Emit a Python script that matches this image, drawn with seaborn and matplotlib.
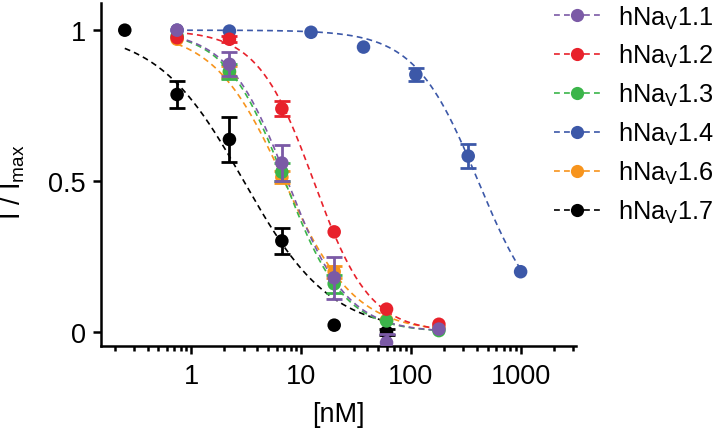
import numpy as np
import pandas as pd
import matplotlib
matplotlib.use('Agg')
import matplotlib.pyplot as plt
import seaborn as sns
from matplotlib.lines import Line2D
from matplotlib.ticker import LogLocator, NullFormatter, FixedLocator, FixedFormatter

# channel names and colours
labels = ['hNa$_\\mathregular{V}$1.1', 'hNa$_\\mathregular{V}$1.2', 'hNa$_\\mathregular{V}$1.3',
          'hNa$_\\mathregular{V}$1.4', 'hNa$_\\mathregular{V}$1.6', 'hNa$_\\mathregular{V}$1.7']
colors = ['#7b5aa6', '#e8212b', '#3bb54a', '#3c58a8', '#f7941d', '#000000']

# concentrations (nM)
x_nav = [0.74, 2.22, 6.67, 20, 60, 180]
x_14 = [0.74, 2.22, 12.3, 37, 111, 333, 1000]
x_17 = [0.247, 0.74, 2.22, 6.67, 20, 60]

# normalised current I/Imax and SEM
y_11 = [1.00, 0.887, 0.56, 0.18, -0.035, 0.01]
e_11 = [0, 0.04, 0.06, 0.07, 0.03, 0]
y_12 = [0.975, 0.97, 0.74, 0.332, 0.076, 0.026]
e_12 = [0, 0.01, 0.024, 0, 0, 0]
y_13 = [0.98, 0.864, 0.53, 0.16, 0.037, 0.005]
e_13 = [0, 0.025, 0.03, 0.03, 0, 0]
y_14 = [1.0, 0.997, 0.993, 0.944, 0.853, 0.583, 0.2]
e_14 = [0, 0, 0, 0, 0.022, 0.039, 0]
y_16 = [0.97, 0.86, 0.513, 0.2, 0.04, 0.015]
e_16 = [0, 0.02, 0.02, 0.02, 0, 0]
y_17 = [1.0, 0.787, 0.638, 0.302, 0.023, 0.0]
e_17 = [0, 0.044, 0.073, 0.043, 0, 0.01]

# Hill fit parameters
ic50 = [7.5, 13, 7.1, 410, 7.0, 3.0]
hill = [1.6, 1.7, 1.6, 1.5, 1.35, 1.1]

xs = [x_nav, x_nav, x_nav, x_14, x_nav, x_17]
ys = [y_11, y_12, y_13, y_14, y_16, y_17]
es = [e_11, e_12, e_13, e_14, e_16, e_17]

sns.set_style('ticks')
plt.rcParams['font.family'] = ['Liberation Sans', 'DejaVu Sans']
plt.rcParams['mathtext.fontset'] = 'custom'
plt.rcParams['mathtext.rm'] = 'Liberation Sans'
plt.rcParams['mathtext.it'] = 'Liberation Sans:italic'
plt.rcParams['text.color'] = 'black'
plt.rcParams['axes.labelcolor'] = 'black'
plt.rcParams['xtick.color'] = 'black'
plt.rcParams['ytick.color'] = 'black'

fig = plt.figure(figsize=(7.18, 4.35), dpi=100)
ax = fig.add_axes([0.1407, 0.2023, 0.6616, 0.7885])

draw_order = [3, 5, 4, 2, 1, 0]
for k, i in enumerate(draw_order):
    c = colors[i]
    xc = np.logspace(np.log10(xs[i][0]), np.log10(xs[i][-1]), 200)
    yc = 1.0 / (1.0 + (xc / ic50[i]) ** hill[i])
    sns.lineplot(x=xc, y=yc, color=c, ax=ax, linestyle=(0, (3.5, 2.5)),
                 linewidth=1.2, zorder=2 + k)
    df = pd.DataFrame({'x': xs[i], 'y': ys[i], 'e': es[i]})
    de = df[df['e'] > 0]
    ax.errorbar(de['x'], de['y'], yerr=de['e'], fmt='none', ecolor=c,
                elinewidth=2.0, capsize=6, capthick=2.0, zorder=10 + k)
    sns.scatterplot(data=df, x='x', y='y', color=c, s=95, edgecolor='none',
                    ax=ax, zorder=10 + k)

ax.set_xscale('log')
ax.set_xlim(0.15, 3200)
ax.set_ylim(-0.046, 1.09)
ax.xaxis.set_major_locator(FixedLocator([1, 10, 100, 1000]))
ax.xaxis.set_major_formatter(FixedFormatter(['1', '10', '100', '1000']))
ax.xaxis.set_minor_locator(LogLocator(base=10, subs=range(2, 10), numticks=20))
ax.xaxis.set_minor_formatter(NullFormatter())
ax.set_yticks([0, 0.5, 1])
ax.set_yticklabels(['0', '0.5', '1'])

for s in ['top', 'right']:
    ax.spines[s].set_visible(False)
for s in ['left', 'bottom']:
    ax.spines[s].set_linewidth(1.8)
    ax.spines[s].set_color('black')

ax.tick_params(axis='both', which='major', labelsize=19.5, width=1.8, length=6,
               color='black', labelcolor='black')
ax.tick_params(axis='x', which='major', pad=6)
ax.tick_params(axis='y', which='major', pad=5)
ax.tick_params(axis='x', which='minor', width=1.8, length=3.5, color='black')

ax.set_xlabel('[nM]', fontsize=19.5, color='black')
ax.set_ylabel('I / I$_\\mathregular{max}$', fontsize=19.5, color='black')
ax.xaxis.set_label_coords(0.5, -0.16)
ax.yaxis.set_label_coords(-0.155, 0.48)

handles = [Line2D([], [], color=colors[i], linestyle=(0, (3.5, 2.5)), linewidth=1.2,
                  marker='o', markersize=9.5, markeredgewidth=0)
           for i in range(6)]
fig.legend(handles, labels, loc='upper left', bbox_to_anchor=(0.772, 0.99),
           frameon=False, fontsize=18.3, borderpad=0, labelspacing=0.46,
           handlelength=1.8, handletextpad=0.7, borderaxespad=0,
           labelcolor='black')

fig.savefig('out.png', dpi=100)
